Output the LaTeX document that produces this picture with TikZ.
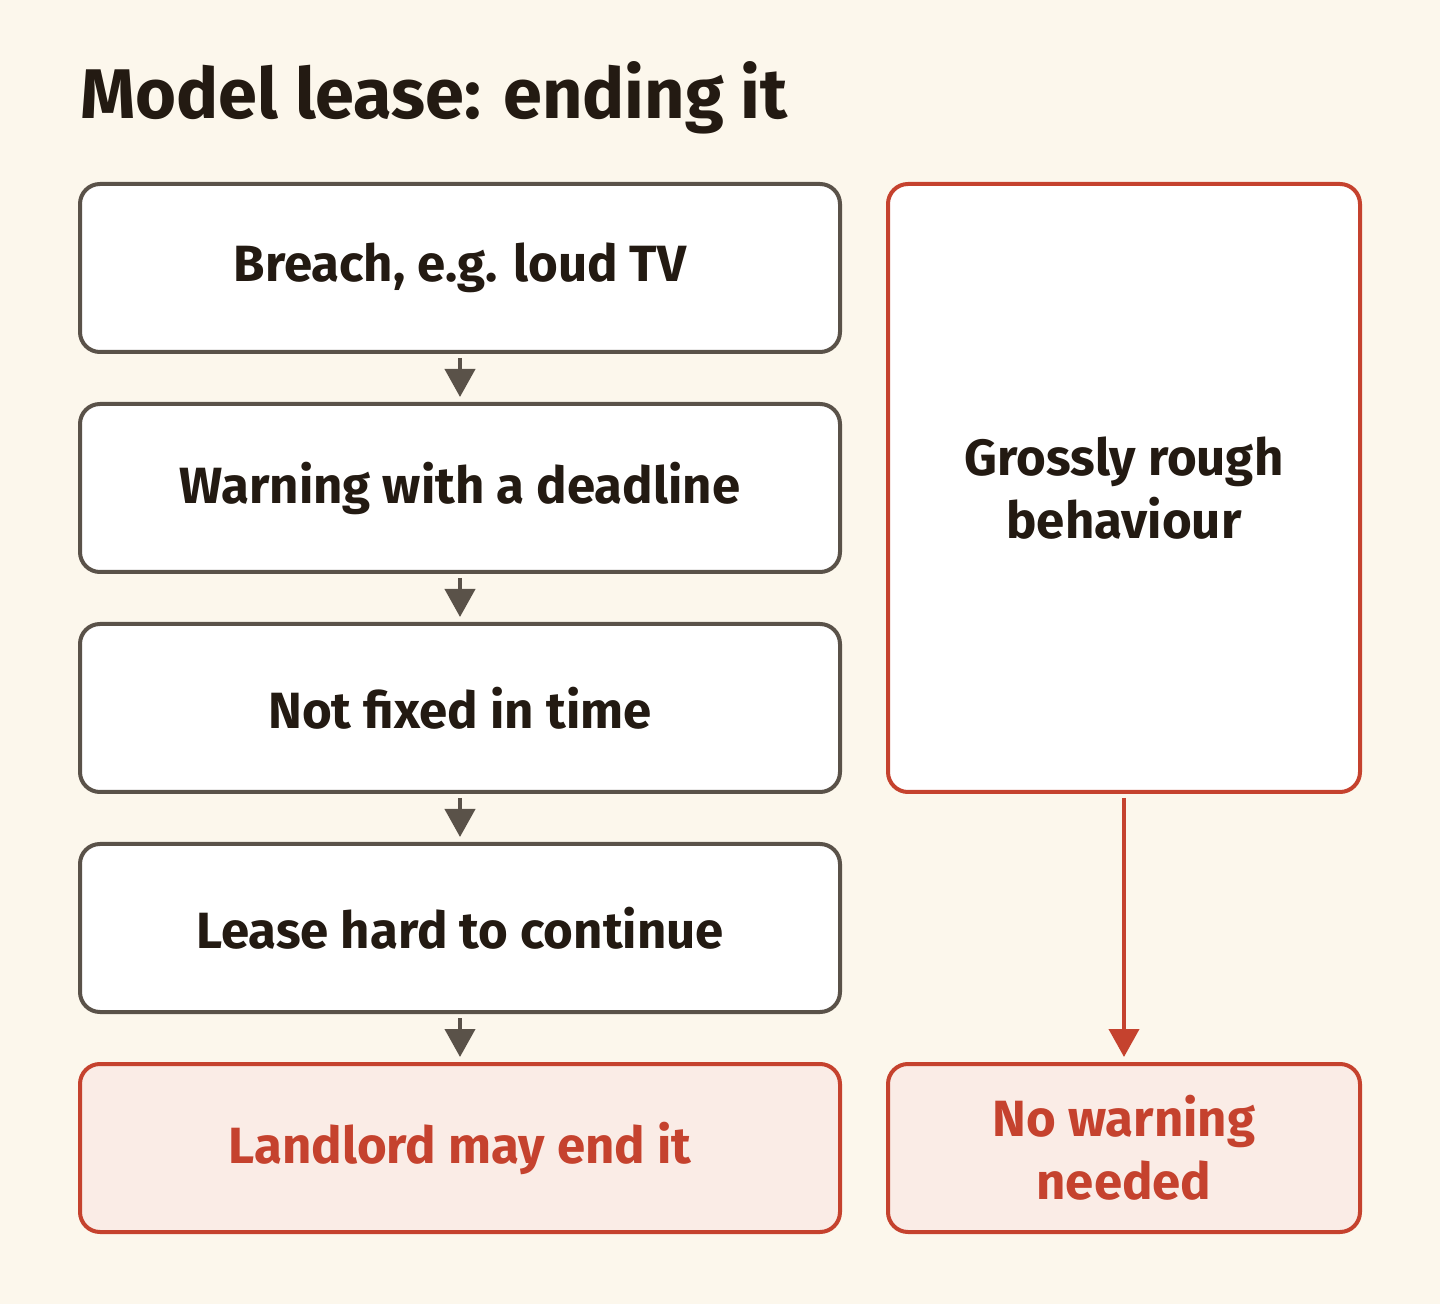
\documentclass[tikz,border=0pt]{standalone}
\usepackage{fontspec}
\setmainfont{Fira Sans}
\usetikzlibrary{arrows.meta,positioning}
\definecolor{paper}{HTML}{FCF7EC}
\definecolor{ink}{HTML}{231A12}
\definecolor{stone}{HTML}{5A5249}
\definecolor{brick}{HTML}{C5422E}
\definecolor{blush}{HTML}{FAECE6}
\tikzset{
  stage/.style={draw=stone,line width=0.08cm,rounded corners=0.4cm,fill=white,
    minimum width=15.2cm,minimum height=3.36cm,align=center,text=ink,
    font=\fontsize{29}{36}\selectfont\bfseries},
  alarm/.style={stage,draw=brick},
  verdict/.style={stage,draw=brick,fill=blush,text=brick},
  flow/.style={stone,line width=0.08cm,-{Triangle[length=0.56cm,width=0.6cm]}},
  redflow/.style={flow,brick}
}
\begin{document}
\begin{tikzpicture}
% background
\fill[paper] (0,0) rectangle (28.8,26.08);
\useasboundingbox (0,0) rectangle (28.8,26.08);
% title
\node[anchor=base west,text=ink,inner sep=0pt,font=\fontsize{40}{48}\selectfont\bfseries] (title) at (1.6,23.7) {Model lease: ending it};
% normal route
\node[stage] (breach) at (9.2,20.72) {Breach, e.g. loud TV};
\node[stage] (warning) at (9.2,16.32) {Warning with a deadline};
\node[stage] (notfixed) at (9.2,11.92) {Not fixed in time};
\node[stage] (hard) at (9.2,7.52) {Lease hard to continue};
\node[verdict] (ends) at (9.2,3.12) {Landlord may end it};
% gross route
\node[alarm,minimum width=9.44cm,minimum height=12.16cm] (gross) at (22.48,16.32) {Grossly rough\\behaviour};
\node[verdict,minimum width=9.44cm] (nowarn) at (22.48,3.12) {No warning\\needed};
% arrows
\draw[flow] ([yshift=-0.08cm]breach.south) -- ([yshift=0.1cm]warning.north);
\draw[flow] ([yshift=-0.08cm]warning.south) -- ([yshift=0.1cm]notfixed.north);
\draw[flow] ([yshift=-0.08cm]notfixed.south) -- ([yshift=0.1cm]hard.north);
\draw[flow] ([yshift=-0.08cm]hard.south) -- ([yshift=0.1cm]ends.north);
\draw[redflow] ([yshift=-0.08cm]gross.south) -- ([yshift=0.1cm]nowarn.north);
\end{tikzpicture}
\end{document}
